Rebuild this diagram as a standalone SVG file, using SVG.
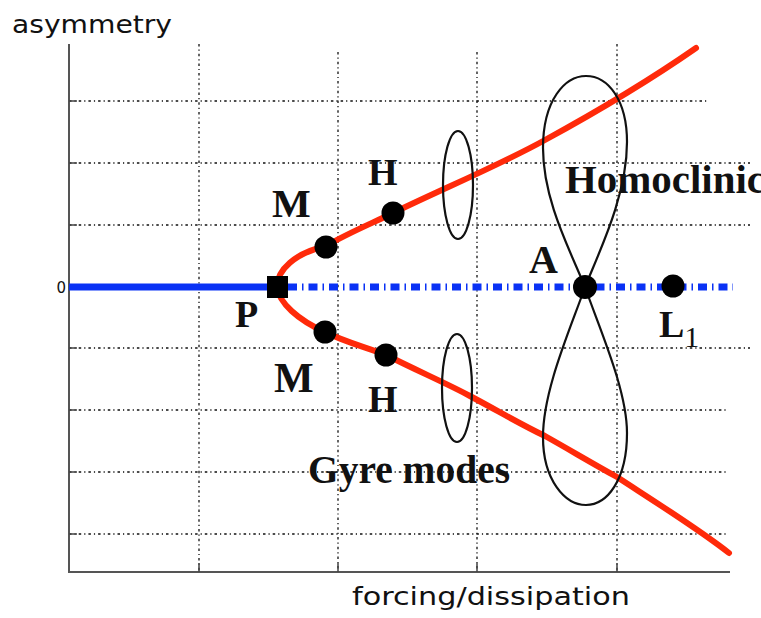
<svg xmlns="http://www.w3.org/2000/svg" width="761" height="618" viewBox="0 0 761 618">
<style>
.grid{stroke:#111;stroke-width:1.3;stroke-dasharray:2.5 3 1.2 3;fill:none}
.axis{stroke:#555;stroke-width:2;fill:none}
.tick{stroke:#444;stroke-width:1.5}
.red{stroke:#ff2a0a;stroke-width:6;fill:none;stroke-linecap:round;stroke-linejoin:round}
.orbit{stroke:#111;stroke-width:2.2;fill:none}
.dot{fill:#000}
.lbl{font-family:"Liberation Serif","Times New Roman",serif;font-weight:bold;fill:#111}
.ax{font-family:"DejaVu Sans","Liberation Sans",sans-serif;fill:#111}
</style>
<rect width="761" height="618" fill="#fff"/>
<g id="grid">
<line class="grid" x1="69" y1="101" x2="707" y2="101"/>
<line class="grid" x1="69" y1="163" x2="750" y2="163"/>
<line class="grid" x1="69" y1="225" x2="750" y2="225"/>
<line class="grid" x1="69" y1="348" x2="750" y2="348"/>
<line class="grid" x1="69" y1="410" x2="728" y2="410"/>
<line class="grid" x1="69" y1="472" x2="728" y2="472"/>
<line class="grid" x1="69" y1="534" x2="728" y2="534"/>
<line class="grid" x1="199" y1="44" x2="199" y2="572"/>
<line class="grid" x1="338" y1="52" x2="338" y2="572"/>
<line class="grid" x1="477" y1="52" x2="477" y2="572"/>
<line class="grid" x1="617" y1="44" x2="617" y2="572"/>
</g>
<g id="axes">
<path class="axis" d="M69,44 V572 H730"/>
<path class="tick" d="M69,101 h8 M69,163 h8 M69,225 h8 M69,348 h8 M69,410 h8 M69,472 h8 M69,534 h8 M199,572 v-9 M338,572 v-9 M477,572 v-9 M617,572 v-9"/>
<text class="ax" x="66" y="293" font-size="15" text-anchor="end" fill="#444">0</text>
<text class="ax" x="12" y="33" font-size="25" textLength="160" lengthAdjust="spacingAndGlyphs">asymmetry</text>
<text class="ax" x="352" y="605" font-size="25" textLength="278" lengthAdjust="spacingAndGlyphs">forcing/dissipation</text>
</g>
<g id="connectors">
<line x1="69" y1="287" x2="277" y2="287" stroke="#0a32f5" stroke-width="7"/>
<line x1="288" y1="287" x2="733" y2="287" stroke="#0a32f5" stroke-width="7" stroke-dasharray="9 5 1.5 5"/>
<path id="upper-branch" class="red" d="M277,287 C277,270 295,253 326,246 C350,232 375,222 393,213 C440,190 500,165 545,140 C600,110 650,80 696,48"/>
<path id="lower-branch" class="red" d="M277,287 C279,303 298,320 325,332 C345,342 365,347 386,355 C420,372 450,385 470,396 C500,412 520,424 545,436 C570,450 590,462 617,477 C660,505 700,530 729,553"/>
</g>
<g id="orbits">
<ellipse class="orbit" cx="458" cy="185" rx="15" ry="54"/>
<ellipse class="orbit" cx="457" cy="388" rx="15" ry="54"/>
<path id="homoclinic-upper" class="orbit" d="M585,287 C570,250 543,200 543,148 C543,100 565,76 586,76 C608,76 627,100 627,142 C627,195 600,250 585,287 Z"/>
<path id="homoclinic-lower" class="orbit" d="M585,287 C570,330 543,390 543,437 C543,480 565,505 586,505 C607,505 627,480 627,433 C627,390 600,330 585,287 Z"/>
</g>
<g id="node-P"><rect class="dot" x="267" y="276" width="21" height="22"/><text class="lbl" x="235" y="327" font-size="38">P</text></g>
<g id="node-M-upper"><circle class="dot" cx="326" cy="247" r="11.5"/><text class="lbl" x="272" y="217" font-size="41">M</text></g>
<g id="node-H-upper"><circle class="dot" cx="393" cy="213" r="11.5"/><text class="lbl" x="368" y="185" font-size="38">H</text></g>
<g id="node-M-lower"><circle class="dot" cx="325" cy="332" r="11.5"/><text class="lbl" x="274" y="392" font-size="42">M</text></g>
<g id="node-H-lower"><circle class="dot" cx="386" cy="355" r="11.5"/><text class="lbl" x="368" y="412" font-size="38">H</text></g>
<g id="node-A"><circle class="dot" cx="585" cy="287" r="12"/><text class="lbl" x="529" y="273" font-size="40">A</text></g>
<g id="node-L1"><circle class="dot" cx="673" cy="286" r="11.5"/><text class="lbl" x="659" y="337" font-size="38">L<tspan font-weight="normal" font-size="30" dy="10">1</tspan></text></g>
<g id="labels">
<text class="lbl" x="565" y="193" font-size="40" textLength="200" lengthAdjust="spacingAndGlyphs">Homoclinic</text>
<text class="lbl" x="308" y="483" font-size="39" textLength="202" lengthAdjust="spacingAndGlyphs">Gyre modes</text>
</g>
</svg>
